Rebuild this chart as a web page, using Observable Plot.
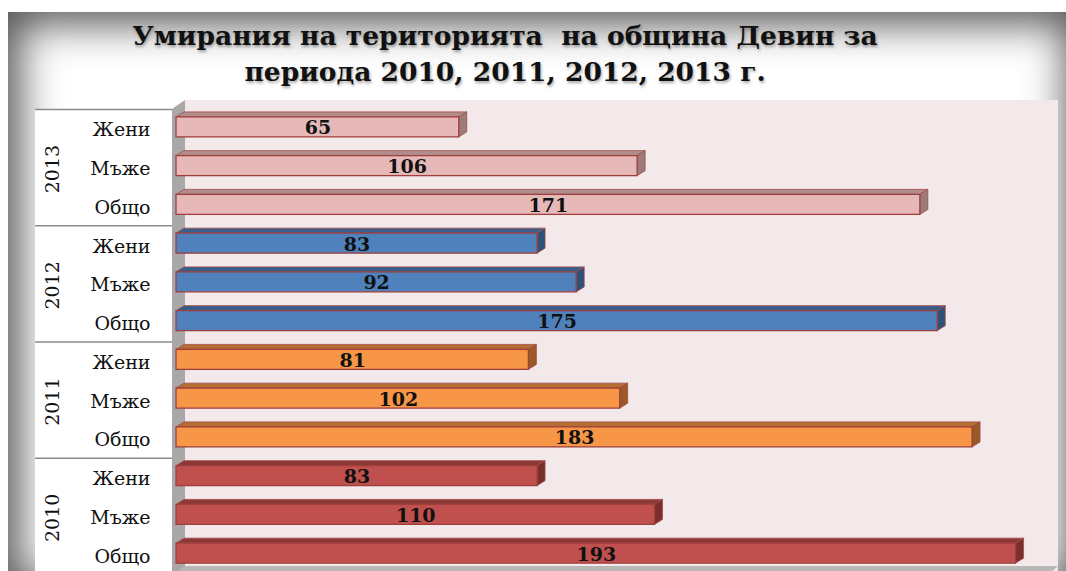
<!DOCTYPE html>
<html><head><meta charset="utf-8">
<script src="https://cdn.jsdelivr.net/npm/d3@7"></script>
<script src="https://cdn.jsdelivr.net/npm/@observablehq/plot@0.6"></script>
<style>
html,body{margin:0;padding:0;background:#fff;}
#wrap{position:relative;width:1066px;height:571px;overflow:hidden;}
#frame{position:absolute;left:8px;top:12px;width:1070px;height:580px;background:#fff;box-shadow:inset 0 0 40px 12px rgba(55,55,55,0.85);}
#title{position:absolute;left:0;width:1010px;top:18px;text-align:center;font:bold 26.5px "DejaVu Serif";line-height:36px;color:#111;text-shadow:1px 2px 3px rgba(0,0,0,0.35);z-index:2;}
#chart{position:absolute;left:0;top:0;z-index:1;}
</style></head><body>
<div id="wrap"><div id="frame"></div>
<div id="title">Умирания на територията&nbsp; на община Девин за<br>периода 2010, 2011, 2012, 2013 г.</div>
<div id="chart"></div></div>
<script>
const years = ["2013","2012","2011","2010"];
const groups = ["Жени","Мъже","Общо"];
const v2013 = [65,106,171];
const v2012 = [83,92,175];
const v2011 = [81,102,183];
const v2010 = [83,110,193];
const fills = ["#e6b9b8","#4f81bd","#f79646","#c0504d"];
const tops = ["#b08c8b","#385d8a","#b66d31","#8c3836"];
const sides = ["#9c7c7b","#2f5079","#9a5a26","#7a2f2d"];

const series = [v2013, v2012, v2011, v2010];
const rows = [];
years.forEach((yr,i) => groups.forEach((g,j) => rows.push({year:yr, group:g, key:yr+"|"+g, value:series[i][j], fill:fills[i], top:tops[i], side:sides[i]})));
const yearRows = years.map(yr => ({year:yr, key:yr+"|"+groups[1]}));
const firstRows = years.map(yr => ({key:yr+"|"+groups[0]}));

const D = 8, H = 5;
const BW = 20;

function backdrop(index, scales, values, dims) {
  const x = scales.x;
  const g = d3.create("svg:g");
  const top = 100, left = x(0)+9, right = 1058, bottom = 571;
  g.append("rect").attr("x",35).attr("y",109).attr("width",x(0)-4-35).attr("height",bottom-109).attr("fill","#ffffff");
  g.append("rect").attr("x",left).attr("y",top).attr("width",right-left).attr("height",bottom-top).attr("fill","#f4e9ea");
  g.append("polygon").attr("points",[[x(0)-4,109],[left,top],[left,bottom],[x(0)-4,bottom]].join(" ")).attr("fill","#a9a7a7");
  g.append("polygon").attr("points",[[x(0)-4,575],[left,566],[right,566],[right-10,575]].join(" ")).attr("fill","#b9b6b6");
  return g.node();
}

function separators(index, scales, values, dims) {
  const g = d3.create("svg:g");
  const step = scales.y(rows[1].key) - scales.y(rows[0].key);
  firstRows.forEach(d => {
    const yy = scales.y(d.key) - step/2 - 1;
    g.append("line").attr("x1",35).attr("x2",scales.x(0)-4).attr("y1",yy).attr("y2",yy).attr("stroke","#8a8a8a").attr("stroke-width",1.5);
  });
  return g.node();
}

function bars3d(index, scales, values, dims) {
  const x = scales.x;
  const g = d3.create("svg:g");
  rows.forEach(d => {
    const yc = scales.y(d.key) - 3;
    const x0 = x(0), x1 = x(d.value), y0 = yc - BW/2, y1 = y0 + BW;
    g.append("polygon").attr("points",[[x0,y0],[x0+D,y0-H],[x1+D,y0-H],[x1,y0]].join(" "))
      .attr("fill",d.top).attr("stroke","#a04a48").attr("stroke-width",0.8).attr("stroke-linejoin","round");
    g.append("polygon").attr("points",[[x1,y0],[x1+D,y0-H],[x1+D,y1-H],[x1,y1]].join(" "))
      .attr("fill",d.side).attr("stroke","#a04a48").attr("stroke-width",0.8).attr("stroke-linejoin","round");
    g.append("rect").attr("x",x0).attr("y",y0).attr("width",x1-x0).attr("height",BW)
      .attr("fill",d.fill).attr("stroke","#a0403e").attr("stroke-width",1.3);
  });
  return g.node();
}

const chart = Plot.plot({
  width:1066, height:571,
  marginLeft:176, marginRight:20, marginTop:110.5, marginBottom:-4.5,
  style:{background:"transparent", overflow:"visible"},
  x:{domain:[0,200], axis:null},
  y:{type:"point", domain: rows.map(d=>d.key), padding:0.5, round:false, axis:null},
  marks:[
    backdrop,
    separators,
    bars3d,
    Plot.text(rows, {x:d=>d.value/2, y:"key", text:d=>String(d.value), fontFamily:"DejaVu Serif", fontWeight:"bold", fontSize:19, fill:"#111", dy:-2}),
    Plot.text(rows, {x:0, y:"key", text:"group", textAnchor:"end", dx:-26, dy:0, fontFamily:"DejaVu Serif", fontSize:19, fill:"#111"}),
    Plot.text(yearRows, {x:0, y:"key", text:"year", rotate:-90, dx:-124, dy:0, fontFamily:"DejaVu Serif", fontSize:19, fill:"#111"})
  ]
});
document.getElementById("chart").appendChild(chart);
</script>
</body></html>
